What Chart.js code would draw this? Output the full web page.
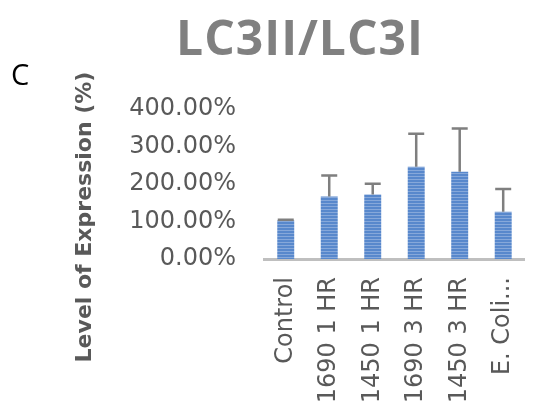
<!DOCTYPE html>
<html>
<head>
<meta charset="utf-8">
<script src="https://cdn.jsdelivr.net/npm/chart.js@4"></script>
<style>
  html, body { margin: 0; padding: 0; background: #fff; }
  #wrap { width: 550px; height: 411px; }
</style>
</head>
<body>
<div id="wrap"><canvas id="lc3Chart" width="550" height="411"></canvas></div>
<script>
// values (percent)
const categories = ['Control', '1690 1 HR', '1450 1 HR', '1690 3 HR', '1450 3 HR', 'E. Coli...'];
const levels = [103, 167, 172, 246, 233, 126];
const errors = [2, 56, 29, 88, 115, 61];
const yTicks = [0, 100, 200, 300, 400];

const TICK_FONT = '"DejaVu Sans", sans-serif';
const TITLE_FONT = '"Open Sans", sans-serif';

// striped fill like the original bars
function makeStripes() {
    const c = document.createElement('canvas');
    c.width = 4;
    c.height = 3;
    const g = c.getContext('2d');
    g.fillStyle = '#5888cc';
    g.fillRect(0, 0, 4, 2);
    g.fillStyle = '#86a8da';
    g.fillRect(0, 2, 4, 1);
    return g.createPattern(c, 'repeat');
}

// plus-only error bars with a cap
const errorBars = {
    id: 'errorBars',
    afterDatasetsDraw(chart) {
        const ctx = chart.ctx;
        const y = chart.scales.y;
        const meta = chart.getDatasetMeta(0);
        ctx.save();
        ctx.strokeStyle = '#7f7f7f';
        ctx.lineWidth = 2.5;
        meta.data.forEach((bar, i) => {
            const top = y.getPixelForValue(levels[i] + errors[i]);
            ctx.beginPath();
            ctx.moveTo(bar.x, bar.y);
            ctx.lineTo(bar.x, top);
            ctx.moveTo(bar.x - 8, top);
            ctx.lineTo(bar.x + 8, top);
            ctx.stroke();
        });
        ctx.restore();
    }
};

// chart title, panel letter and the y axis title
const extraText = {
    id: 'extraText',
    afterDraw(chart) {
        const ctx = chart.ctx;
        ctx.save();
        ctx.fillStyle = '#808080';
        ctx.font = 'bold 48px ' + TITLE_FONT;
        ctx.letterSpacing = '1px';
        ctx.textAlign = 'center';
        ctx.textBaseline = 'alphabetic';
        ctx.fillText('LC3II/LC3I', 300, 55);
        ctx.letterSpacing = '0px';

        ctx.fillStyle = '#000';
        ctx.font = '29px ' + TITLE_FONT;
        ctx.textAlign = 'left';
        ctx.fillText('C', 11, 85);

        ctx.translate(85, 217);
        ctx.rotate(-Math.PI / 2);
        ctx.fillStyle = '#595959';
        ctx.font = 'bold 22px ' + TICK_FONT;
        ctx.textAlign = 'center';
        ctx.textBaseline = 'middle';
        ctx.fillText('Level of Expression (%)', 0, 0);
        ctx.restore();
    }
};

const ctx = document.getElementById('lc3Chart').getContext('2d');
new Chart(ctx, {
    type: 'bar',
    data: {
        labels: categories,
        datasets: [{
            data: levels,
            backgroundColor: makeStripes(),
            borderWidth: 0,
            barPercentage: 0.39,
            categoryPercentage: 1
        }]
    },
    options: {
        responsive: false,
        animation: false,
        layout: { padding: { left: 0, right: 0, top: 109, bottom: 0 } },
        plugins: {
            legend: { display: false },
            tooltip: { enabled: false },
            title: { display: false }
        },
        scales: {
            x: {
                grid: { display: false, drawTicks: false },
                border: { display: true, color: '#bfbfbf', width: 3 },
                ticks: {
                    color: '#595959',
                    font: { family: TICK_FONT, size: 24 },
                    minRotation: 90,
                    maxRotation: 90,
                    autoSkip: false,
                    padding: 18
                },
                afterFit(scale) { scale.height = 152; }
            },
            y: {
                min: 0,
                max: 400,
                afterBuildTicks(scale) {
                    scale.ticks = yTicks.map(v => ({ value: v }));
                },
                grid: { display: false, drawTicks: false },
                border: { display: false },
                ticks: {
                    color: '#595959',
                    font: { family: TICK_FONT, size: 24 },
                    padding: 28,
                    callback: v => v.toFixed(2) + '%'
                },
                afterFit(scale) { scale.width = 264; }
            }
        }
    },
    plugins: [errorBars, extraText]
});
</script>
</body>
</html>
